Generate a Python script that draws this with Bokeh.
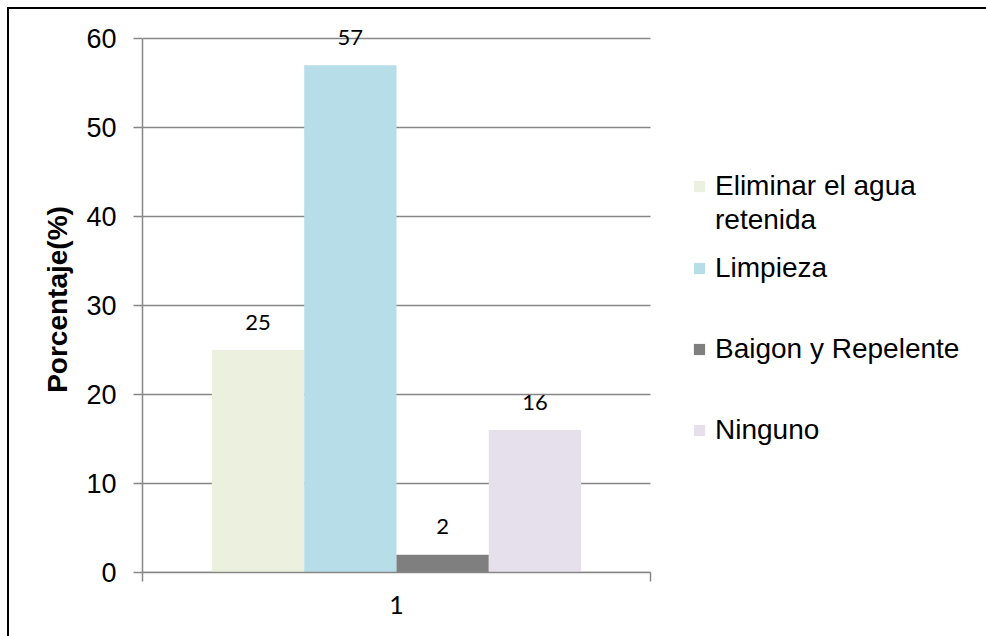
from bokeh.plotting import figure
from bokeh.models import (ColumnDataSource, FixedTicker, Legend, LegendItem,
                          Range1d)
from bokeh.core.properties import value
from bokeh.embed import file_html
from bokeh.resources import INLINE

# Survey answers: measures taken against the mosquito (percent of households)
categories = ["Eliminar el agua retenida", "Limpieza", "Baigon y Repelente", "Ninguno"]
percentages = [25, 57, 2, 16]
colors = ["#EBF1DE", "#B7DDE8", "#7F7F7F", "#E5E0EC"]
group_label = "1"
y_ticks = [0, 10, 20, 30, 40, 50, 60]

W, H = 986, 636
BORDER_L = 133
PLOT_W = 508            # width of the [0, 1] group area in pixels
PLOT_TOP = 29           # pixel row of the 60 % line
HEADROOM = 12           # room above the top line for the value labels
BORDER_B = 73
y_max = y_ticks[-1]

# the single group spans [0, 1]; its bars sit side by side around the middle
n = len(categories)
bar_w = 0.1817
centers = [0.5 + (i - (n - 1) / 2) * bar_w for i in range(n)]

# the frame runs to the right edge (legend) and a little above the top line
# (value labels) so that neither is clipped
x_end = (W - BORDER_L) / PLOT_W
px_per_unit = (H - PLOT_TOP - BORDER_B) / y_max
y_end = y_max + HEADROOM / px_per_unit

p = figure(width=W, height=H, output_backend="svg", toolbar_location=None,
           x_range=Range1d(0, x_end), y_range=Range1d(0, y_end),
           min_border_left=BORDER_L, min_border_right=0,
           min_border_top=PLOT_TOP - HEADROOM, min_border_bottom=BORDER_B)
p.outline_line_color = None
p.background_fill_color = "white"
p.border_fill_color = "white"
p.styles = {"border-left": "2px solid black", "border-top": "2px solid black",
            "margin-left": "7px", "margin-top": "7px"}

# horizontal grid lines only across the group area
p.segment(x0=[0] * len(y_ticks), x1=[1] * len(y_ticks), y0=y_ticks, y1=y_ticks,
          line_color="#878787", line_width=1.5)

src = ColumnDataSource(dict(x=centers, top=percentages,
                            txt=[str(v) for v in percentages]))

renderers = []
for i in range(n):
    r = p.vbar(x=[centers[i]], top=[percentages[i]], width=bar_w, bottom=0,
               fill_color=colors[i], line_color=None)
    renderers.append(r)

p.text(x="x", y="top", text="txt", source=src, text_align="center",
       text_baseline="alphabetic", y_offset=-28, text_font=value("Lato"),
       text_font_size="22px", text_color="black")

# y axis
p.yaxis.bounds = (0, y_max)
p.yaxis.ticker = FixedTicker(ticks=y_ticks)
p.yaxis.axis_line_color = "#878787"
p.yaxis.axis_line_width = 1.5
p.yaxis.major_tick_line_color = "#878787"
p.yaxis.major_tick_line_width = 1.5
p.yaxis.major_tick_out = 9
p.yaxis.major_tick_in = 0
p.yaxis.minor_tick_line_color = None
p.yaxis.major_label_text_font = "Liberation Sans"
p.yaxis.major_label_text_font_size = "27px"
p.yaxis.major_label_text_color = "black"
p.yaxis.major_label_standoff = 17
p.yaxis.axis_label = "Porcentaje(%)"
p.yaxis.axis_label_text_font = "Liberation Sans"
p.yaxis.axis_label_text_font_style = "bold"
p.yaxis.axis_label_text_font_size = "28px"
p.yaxis.axis_label_text_color = "black"
p.yaxis.axis_label_standoff = 10
p.ygrid.grid_line_color = None

# x axis: one category label in the middle, tick marks at the group edges
p.xaxis.bounds = (0, 1)
p.xaxis.ticker = FixedTicker(ticks=[0.5], minor_ticks=[0, 1])
p.xaxis.major_label_overrides = {0.5: group_label}
p.xaxis.axis_line_color = "#878787"
p.xaxis.axis_line_width = 1.5
p.xaxis.major_tick_line_color = None
p.xaxis.minor_tick_line_color = "#878787"
p.xaxis.minor_tick_line_width = 1.5
p.xaxis.minor_tick_out = 9
p.xaxis.minor_tick_in = 0
p.xaxis.major_label_text_font = "Lato"
p.xaxis.major_label_text_font_size = "25px"
p.xaxis.major_label_text_color = "black"
p.xaxis.major_label_standoff = 14
p.xgrid.grid_line_color = None

legend_style = dict(orientation="vertical", label_text_font="Liberation Sans",
                    label_text_font_size="28px", label_text_color="black",
                    glyph_width=14, glyph_height=14, label_height=34,
                    label_standoff=9, padding=0, margin=0,
                    border_line_color=None, background_fill_alpha=0)

# the first entry wraps onto a second line, with its swatch beside the first line
first_words = categories[0].split(" ")
line1, line2 = " ".join(first_words[:3]), " ".join(first_words[3:])
legend_top = Legend(items=[LegendItem(label=line1, renderers=[renderers[0]]),
                           LegendItem(label=line2, renderers=[])],
                    location=(550, 335), spacing=0, **legend_style)
legend_rest = Legend(items=[LegendItem(label=categories[i], renderers=[renderers[i]])
                            for i in range(1, n)],
                     location=(550, 125), spacing=47, **legend_style)
p.add_layout(legend_top, "center")
p.add_layout(legend_rest, "center")

open("out.html", "w").write(file_html(p, INLINE))
